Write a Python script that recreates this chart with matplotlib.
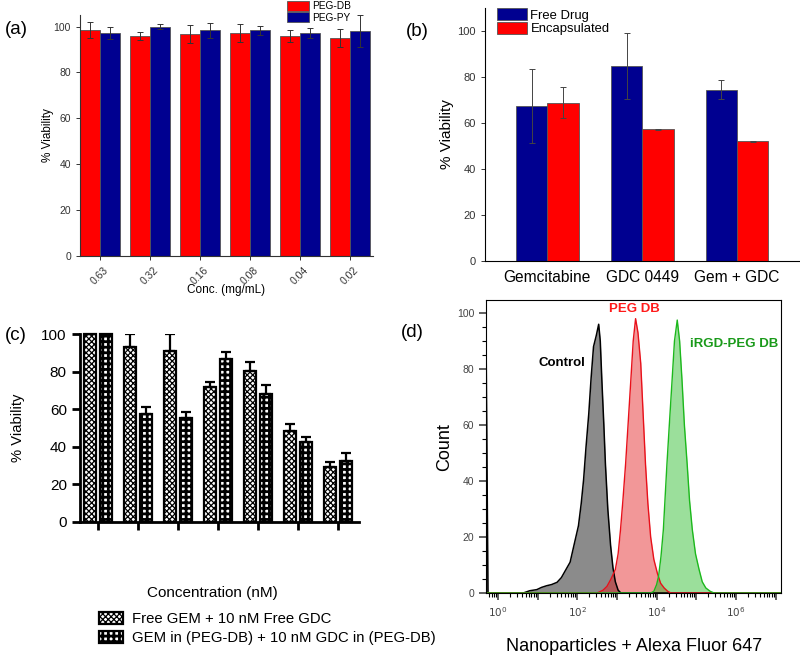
import numpy as np
import matplotlib
matplotlib.use('Agg')
import matplotlib.pyplot as plt
from matplotlib.ticker import FixedLocator, NullFormatter, FuncFormatter, LogLocator

plt.rcParams['font.family'] = ['Liberation Sans', 'DejaVu Sans']

# (a) carrier viability
conc_labels = ['0.63', '0.32', '0.16', '0.08', '0.04', '0.02']
peg_db = [98.4, 95.9, 96.9, 97.2, 95.8, 95.0]
peg_db_err = [3.4, 1.8, 3.9, 3.9, 2.6, 3.8]
peg_py = [97.2, 100.0, 98.4, 98.4, 97.2, 98.1]
peg_py_err = [2.8, 1.2, 3.2, 1.9, 2.1, 6.9]

# (b) free vs encapsulated
drugs = ['Gemcitabine', 'GDC 0449', 'Gem + GDC']
free_drug = [67.5, 84.6, 74.5]
free_drug_err = [16.0, 14.3, 4.0]
encapsulated = [68.8, 57.2, 52.0]
encapsulated_err = [6.8, 0.3, 0.3]

# (c) combination viability (upper error only)
free_combo = [100, 93, 91, 72, 80.3, 48.5, 29]
free_combo_err = [0, 7, 9, 2.5, 4.6, 3.7, 2.8]
np_combo = [100, 57.7, 55.4, 86.5, 68, 42.3, 32.5]
np_combo_err = [0, 3.3, 3.2, 4, 4.8, 2.7, 4]

# (d) flow cytometry histograms, log10 intensity vs count
ctrl_log = [-0.3, -0.25, 0.64, 0.8, 0.98, 1.1, 1.23, 1.35, 1.49, 1.6, 1.7, 1.82, 1.91,
            2.03, 2.1, 2.16, 2.22, 2.29, 2.35, 2.41, 2.48, 2.54, 2.58, 2.62, 2.67, 2.71,
            2.77, 2.84, 2.9, 2.96, 3.03, 3.1, 7.2]
ctrl_cnt = [94, 0, 0, 0.8, 1.2, 2.0, 2.6, 3.0, 3.8, 5.5, 8, 11, 16.6,
            24, 32, 40.5, 52, 64, 77, 88, 92, 96, 90, 76, 60, 46,
            30, 17, 9, 4, 1, 0, 0]
peg_log = [-0.3, 2.5, 2.65, 2.75, 2.85, 2.96, 3.03, 3.09, 3.15, 3.22, 3.28, 3.35, 3.41, 3.47,
           3.53, 3.6, 3.66, 3.72, 3.78, 3.85, 3.93, 4.02, 4.1, 4.19, 4.28, 4.36, 7.2]
peg_cnt = [0, 0, 1, 2.4, 5, 8.4, 14, 22.6, 33, 46.4, 60, 76, 90, 98,
           93, 82, 64, 46, 32, 20, 12, 7, 3.5, 1.8, 0.6, 0, 0]
irgd_log = [-0.3, 3.85, 3.93, 4.0, 4.05, 4.11, 4.17, 4.21, 4.26, 4.32, 4.39, 4.45, 4.52,
            4.58, 4.64, 4.7, 4.77, 4.83, 4.9, 4.98, 5.07, 5.15, 5.24, 5.35, 5.45, 7.2]
irgd_cnt = [0, 0, 0.6, 3, 6, 13, 22.6, 33, 46, 60, 76, 90, 97.5,
            90, 76, 60, 46, 33, 22.6, 14, 8.4, 4, 1.8, 0.6, 0, 0]

RED = '#ff0000'
NAVY = '#000090'

fig = plt.figure(figsize=(8, 6.58), dpi=100)

# ---------------- (a)
ax_a = fig.add_axes([0.1, 0.611, 0.366, 0.366])
x = np.arange(len(conc_labels))
err_kw = dict(ecolor='#333333', elinewidth=0.7, capsize=2, capthick=0.7)
ax_a.bar(x - 0.2, peg_db, 0.4, yerr=peg_db_err, color=RED, edgecolor='#555555',
         linewidth=0.6, label='PEG-DB', error_kw=err_kw)
ax_a.bar(x + 0.2, peg_py, 0.4, yerr=peg_py_err, color=NAVY, edgecolor='#555555',
         linewidth=0.6, label='PEG-PY', error_kw=err_kw)
ax_a.set_xlim(-0.4, 5.46)
ax_a.set_ylim(0, 105)
ax_a.set_yticks([0, 20, 40, 60, 80, 100])
ax_a.set_xticks(x)
ax_a.set_xticklabels(conc_labels, rotation=45, fontsize=7.5, color='#333333')
ax_a.tick_params(axis='both', direction='out', length=3, width=0.7, labelsize=7.5,
                 colors='#333333')
for s in ['top', 'right']:
    ax_a.spines[s].set_visible(False)
for s in ['left', 'bottom']:
    ax_a.spines[s].set_color('#333333')
ax_a.set_ylabel('% Viability', fontsize=8.5)
ax_a.yaxis.set_label_coords(-0.088, 0.5)
ax_a.set_xlabel('Conc. (mg/mL)', fontsize=8.5)
ax_a.xaxis.set_label_coords(0.5, -0.115)
ax_a.legend(loc='upper left', bbox_to_anchor=(0.358, 0.999), bbox_transform=fig.transFigure,
            fontsize=7.3, frameon=False, handlelength=2.15, handleheight=1.05,
            labelspacing=0.1, handletextpad=0.35, borderpad=0.05, borderaxespad=0)

# ---------------- (b)
ax_b = fig.add_axes([0.606, 0.603, 0.3925, 0.385])
xb = np.arange(len(drugs))
err_kw_b = dict(ecolor='#444444', elinewidth=0.7, capsize=2.5, capthick=0.7)
ax_b.bar(xb - 0.165, free_drug, 0.33, yerr=free_drug_err, color=NAVY, edgecolor='#555555',
         linewidth=0.6, label='Free Drug', error_kw=err_kw_b)
ax_b.bar(xb + 0.165, encapsulated, 0.33, yerr=encapsulated_err, color=RED,
         edgecolor='#555555', linewidth=0.6, label='Encapsulated', error_kw=err_kw_b)
ax_b.set_xlim(-0.66, 2.65)
ax_b.set_ylim(0, 110)
ax_b.set_yticks([0, 20, 40, 60, 80, 100])
ax_b.set_xticks(xb)
ax_b.set_xticklabels(drugs, fontsize=11.2)
ax_b.tick_params(axis='y', direction='out', length=3, width=0.7, labelsize=8,
                 colors='#333333')
ax_b.tick_params(axis='x', length=0, pad=6)
for s in ['top', 'right']:
    ax_b.spines[s].set_visible(False)
ax_b.set_ylabel('% Viability', fontsize=11)
ax_b.yaxis.set_label_coords(-0.097, 0.5)
ax_b.legend(loc='upper left', bbox_to_anchor=(0.619, 0.99), bbox_transform=fig.transFigure,
            fontsize=9.4, frameon=False, handlelength=2.3, handleheight=1.1,
            labelspacing=0.0, handletextpad=0.3, borderpad=0.1, borderaxespad=0)

# ---------------- (c)
ax_c = fig.add_axes([0.1, 0.2067, 0.349, 0.2857])
xc = np.arange(len(free_combo))
err_kw_c = dict(ecolor='black', elinewidth=1.6, capsize=3.5, capthick=1.6)
plt.rcParams['hatch.linewidth'] = 0.9
b1 = ax_c.bar(xc - 0.19, free_combo, 0.3, yerr=[np.zeros(len(xc)), free_combo_err],
              color='white', edgecolor='black', linewidth=1.6, hatch='xxxxxx',
              error_kw=err_kw_c, clip_on=False)
plt.rcParams['hatch.linewidth'] = 2.0
b2 = ax_c.bar(xc + 0.19, np_combo, 0.3, yerr=[np.zeros(len(xc)), np_combo_err],
              color='white', edgecolor='black', linewidth=1.6, hatch='+++',
              error_kw=err_kw_c, clip_on=False)
for p in b1:
    if hasattr(p, 'set_hatch_linewidth'):
        p.set_hatch_linewidth(0.9)
for p in b2:
    if hasattr(p, 'set_hatch_linewidth'):
        p.set_hatch_linewidth(2.0)
ax_c.set_xlim(-0.45, 6.53)
ax_c.set_ylim(0, 100)
ax_c.set_yticks([0, 20, 40, 60, 80, 100])
ax_c.set_xticks(xc)
ax_c.set_xticklabels([])
ax_c.tick_params(axis='both', direction='out', length=6, width=2, labelsize=11)
for s in ['top', 'right']:
    ax_c.spines[s].set_visible(False)
for s in ['left', 'bottom']:
    ax_c.spines[s].set_linewidth(2)
ax_c.set_ylabel('% Viability', fontsize=10.6)
ax_c.yaxis.set_label_coords(-0.197, 0.5)
ax_c.set_xlabel('Concentration (nM)', fontsize=11)
ax_c.xaxis.set_label_coords(0.475, -0.34)
leg_c = fig.legend([b1, b2], ['Free GEM + 10 nM Free GDC',
                              'GEM in (PEG-DB) + 10 nM GDC in (PEG-DB)'],
                   loc='upper left', bbox_to_anchor=(0.124, 1 - 612 / 658), fontsize=10.7,
                   frameon=False, handlelength=1.6, handleheight=0.8, labelspacing=0.35,
                   handletextpad=0.6, borderpad=0, borderaxespad=0)
for h, lw in zip(leg_c.legend_handles, [0.9, 2.0]):
    if hasattr(h, 'set_hatch_linewidth'):
        h.set_hatch_linewidth(lw)

# ---------------- (d)
ax_d = fig.add_axes([0.6075, 0.0988, 0.369, 0.445])
ctrl_x = 10 ** np.array(ctrl_log)
peg_x = 10 ** np.array(peg_log)
irgd_x = 10 ** np.array(irgd_log)
ax_d.fill_between(ctrl_x, ctrl_cnt, color='#7f7f7f', alpha=0.9, linewidth=0)
ax_d.plot(ctrl_x, ctrl_cnt, color='black', linewidth=1.1)
ax_d.fill_between(peg_x, peg_cnt, color='#e41a1c', alpha=0.45, linewidth=0)
ax_d.plot(peg_x, peg_cnt, color='#e8101a', linewidth=1.0)
ax_d.fill_between(irgd_x, irgd_cnt, color='#22b822', alpha=0.45, linewidth=0)
ax_d.plot(irgd_x, irgd_cnt, color='#1cb81c', linewidth=1.0)
ax_d.set_xscale('log')
ax_d.set_xlim(10 ** -0.3, 10 ** 7.14)
ax_d.set_ylim(0, 104.6)
ax_d.set_yticks([0, 20, 40, 60, 80, 100])
ax_d.set_yticks(np.arange(0, 105, 5), minor=True)
ax_d.xaxis.set_major_locator(FixedLocator([10.0 ** k for k in range(0, 8)]))
ax_d.xaxis.set_major_formatter(FuncFormatter(
    lambda v, pos: '$10^{%d}$' % round(np.log10(v)) if round(np.log10(v)) % 2 == 0 else ''))
ax_d.xaxis.set_minor_locator(LogLocator(base=10, subs=np.arange(2, 10), numticks=20))
ax_d.xaxis.set_minor_formatter(NullFormatter())
ax_d.tick_params(axis='both', which='major', direction='out', length=5, width=1.2,
                 labelsize=7.5, colors='#444444')
ax_d.tick_params(axis='both', which='minor', direction='out', length=3, width=0.8)
ax_d.set_ylabel('Count', fontsize=13)
ax_d.yaxis.set_label_coords(-0.112, 0.5)
ax_d.set_xlabel('Nanoparticles + Alexa Fluor 647', fontsize=13)
ax_d.xaxis.set_label_coords(0.5, -0.155)
ax_d.text(10 ** 1.62, 82, 'Control', fontsize=9.5, fontweight='bold', color='black',
          ha='center', va='center')
ax_d.text(10 ** 3.43, 101.5, 'PEG DB', fontsize=9.5, fontweight='bold', color='#ff1a1a',
          ha='center', va='center')
ax_d.text(10 ** 5.95, 89, 'iRGD-PEG DB', fontsize=9.5, fontweight='bold', color='#1a9a1a',
          ha='center', va='center')

# panel labels
for lbl, px, py in [('(a)', 16, 30), ('(b)', 417, 32), ('(c)', 16, 336), ('(d)', 412, 333)]:
    fig.text(px / 800, 1 - py / 658, lbl, fontsize=13.5, ha='center', va='center')

fig.savefig('out.png', dpi=100)
